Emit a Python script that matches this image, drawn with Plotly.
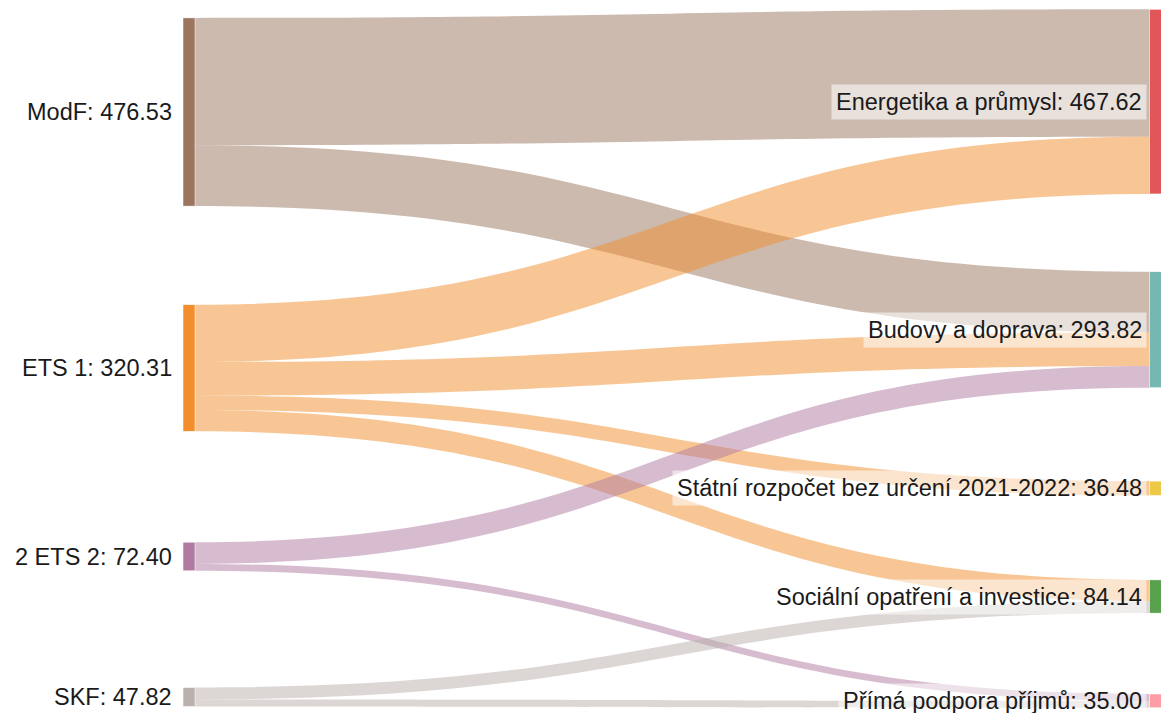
import plotly.graph_objects as go

# ---- data ----
node_names = ["ModF", "ETS 1", "2 ETS 2", "SKF",
              "Energetika a průmysl", "Budovy a doprava",
              "Státní rozpočet bez určení 2021-2022",
              "Sociální opatření a investice", "Přímá podpora příjmů"]
node_totals = [476.53, 320.31, 72.40, 47.82, 467.62, 293.82, 36.48, 84.14, 35.00]

link_source = [0, 0, 1, 1, 1, 1, 2, 2, 3, 3]
link_target = [4, 5, 4, 5, 6, 7, 5, 8, 7, 8]
link_value = [322.62, 153.91, 145.00, 85.01, 36.48, 53.82, 54.90, 17.50, 30.32, 17.50]

# ---- style / layout ----
node_colors = ["#9c755f", "#f28e2b", "#b07aa1", "#bab0ac",
               "#e15759", "#76b7b2", "#edc948", "#59a14f", "#ff9da7"]
W, H = 1161, 713
THICK = 12
# node centre positions in pixels (layout)
node_px_x = [189, 189, 189, 189, 1155.5, 1155.5, 1155.5, 1155.5, 1155.5]
node_px_y = [112, 368, 556.5, 697, 101.6, 329.7, 488.3, 596.5, 700.9]
n_sources = 4


def rgba(hexc, a):
    h = hexc.lstrip("#")
    return "rgba(%d,%d,%d,%s)" % (int(h[0:2], 16), int(h[2:4], 16), int(h[4:6], 16), a)


labels = ["%s: %.2f" % (n, v) for n, v in zip(node_names, node_totals)]
link_colors = [rgba(node_colors[s], 0.5) for s in link_source]

fig = go.Figure(go.Sankey(
    arrangement="fixed",
    node=dict(label=[""] * len(labels), color=node_colors, pad=87.7, thickness=THICK,
              x=[px / W for px in node_px_x], y=[py / H for py in node_px_y],
              customdata=labels, hovertemplate="%{customdata}<extra></extra>",
              line=dict(color="white", width=0.5)),
    link=dict(source=link_source, target=link_target, value=link_value,
              color=link_colors),
))

annotations = []
for i, lab in enumerate(labels):
    if i < n_sources:
        ax = (node_px_x[i] - THICK / 2 - 6) / W
    else:
        ax = (node_px_x[i] - THICK / 2 - 3) / W
    annotations.append(dict(
        text=lab, x=ax, y=1 - node_px_y[i] / H, xref="paper", yref="paper",
        xanchor="right", yanchor="middle", showarrow=False,
        font=dict(family="Liberation Sans, Arial", size=23.5, color="#1a1a1a"),
        bgcolor="rgba(255,255,255,0.55)", borderpad=4,
    ))

fig.update_layout(width=W, height=H, margin=dict(l=0, r=0, t=0, b=0),
                  paper_bgcolor="white", annotations=annotations)
fig.write_html("out.html", config={"displayModeBar": False},
               post_script="document.body.style.margin='0';document.body.style.overflow='hidden';")
